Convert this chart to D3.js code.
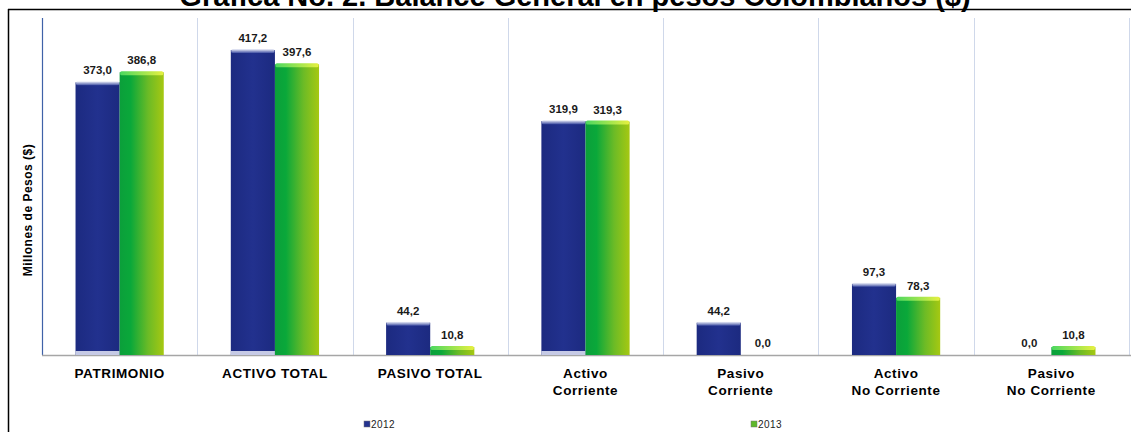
<!DOCTYPE html>
<html>
<head>
<meta charset="utf-8">
<script src="https://cdn.jsdelivr.net/npm/d3@7"></script>
<style>
  body { margin: 0; background: #fff; }
  svg { display: block; font-family: Arial, "Liberation Sans", sans-serif; }
</style>
</head>
<body>
<svg id="chart" width="1131" height="432"></svg>
<script>
const categories = [["PATRIMONIO"], ["ACTIVO TOTAL"], ["PASIVO TOTAL"], ["Activo", "Corriente"],
  ["Pasivo", "Corriente"], ["Activo", "No Corriente"], ["Pasivo", "No Corriente"]];
const years = ["2012", "2013"];
const values2012 = [373.0, 417.2, 44.2, 319.9, 44.2, 97.3, 0.0];
const values2013 = [386.8, 397.6, 10.8, 319.3, 0.0, 78.3, 10.8];

const svg = d3.select("#chart");
const plotLeft = 42, plotRight = 1129, plotTop = 18, plotBottom = 355;

// gradients for the bars
const defs = svg.append("defs");
let g1 = defs.append("linearGradient").attr("id", "blueBar").attr("x1", "0%").attr("x2", "100%");
g1.append("stop").attr("offset", "0%").attr("stop-color", "#1c2a80");
g1.append("stop").attr("offset", "50%").attr("stop-color", "#22318e");
g1.append("stop").attr("offset", "100%").attr("stop-color", "#1c2a80");
let g2 = defs.append("linearGradient").attr("id", "greenBar").attr("x1", "0%").attr("x2", "100%");
g2.append("stop").attr("offset", "0%").attr("stop-color", "#0b9f3a");
g2.append("stop").attr("offset", "25%").attr("stop-color", "#0aa83a");
g2.append("stop").attr("offset", "65%").attr("stop-color", "#6cbb26");
g2.append("stop").attr("offset", "100%").attr("stop-color", "#a6c812");
let gTop = defs.append("linearGradient").attr("id", "topBlue").attr("x1", "0%").attr("y1", "0%").attr("x2", "0%").attr("y2", "100%");
gTop.append("stop").attr("offset", "0%").attr("stop-color", "#f2f4fb");
gTop.append("stop").attr("offset", "100%").attr("stop-color", "#4050a4");
let gTopG = defs.append("linearGradient").attr("id", "topGreen").attr("x1", "0%").attr("x2", "100%");
gTopG.append("stop").attr("offset", "0%").attr("stop-color", "#4cd860");
gTopG.append("stop").attr("offset", "100%").attr("stop-color", "#e6f040");

// frame and title (the title is cropped at the top, as in the original)
svg.append("text").attr("x", 575).attr("y", 6).attr("text-anchor", "middle")
  .attr("font-size", 29).attr("font-weight", "bold").attr("fill", "#000")
  .text("Grafica No. 2. Balance General en pesos Colombianos ($)");
svg.append("line").attr("x1", 8).attr("x2", 1131).attr("y1", 9.5).attr("y2", 9.5).attr("stroke", "#000").attr("stroke-width", 1.5);
svg.append("line").attr("x1", 8.5).attr("x2", 8.5).attr("y1", 9).attr("y2", 432).attr("stroke", "#000").attr("stroke-width", 1.5);

const x = d3.scaleBand().domain(d3.range(categories.length)).range([plotLeft, plotRight]);
const xs = d3.scaleBand().domain(years).range([0, x.bandwidth()]).paddingInner(0).paddingOuter(0.76);
const y = d3.scaleLinear().domain([0, 461]).range([plotBottom, plotTop]);

// category separators
svg.selectAll(".sep").data(d3.range(categories.length + 1)).join("line")
  .attr("x1", d => Math.round(plotLeft + d * x.step()) + 0.5)
  .attr("x2", d => Math.round(plotLeft + d * x.step()) + 0.5)
  .attr("y1", plotTop).attr("y2", plotBottom)
  .attr("stroke", d => d === 0 ? "#3f62a8" : "#cfd8ea").attr("stroke-width", d => d === 0 ? 1.2 : 1);

svg.append("line").attr("x1", plotLeft).attr("x2", 1131).attr("y1", plotBottom + 0.5).attr("y2", plotBottom + 0.5)
  .attr("stroke", "#a6a6a6").attr("stroke-width", 1.5);

const series = [
  { year: "2012", vals: values2012, fill: "url(#blueBar)", topFill: "url(#topBlue)" },
  { year: "2013", vals: values2013, fill: "url(#greenBar)", topFill: "url(#topGreen)" }
];

series.forEach(s => {
  const g = svg.append("g");
  const bars = g.selectAll("g").data(s.vals.map((v, i) => ({ v, i }))).join("g")
    .attr("transform", d => `translate(${x(d.i) + xs(s.year)},0)`);
  bars.filter(d => d.v > 0).append("rect")
    .attr("x", 0).attr("width", xs.bandwidth())
    .attr("y", d => y(d.v)).attr("height", d => plotBottom - y(d.v))
    .attr("fill", s.fill);
  bars.filter(d => d.v > 0).append("rect")
    .attr("x", 0.5).attr("width", xs.bandwidth() - 1)
    .attr("y", d => y(d.v) - 1).attr("height", 4).attr("rx", 1.5)
    .attr("fill", s.topFill);
  if (s.year === "2012") {
    bars.filter(d => d.v > 100).append("rect")
      .attr("x", 0).attr("width", xs.bandwidth())
      .attr("y", plotBottom - 4).attr("height", 4)
      .attr("fill", "#d8dcf0").attr("opacity", 0.9);
  }
  bars.append("text")
    .attr("x", xs.bandwidth() / 2).attr("y", d => y(d.v) - 8)
    .attr("text-anchor", "middle").attr("font-size", 11.5).attr("font-weight", "bold").attr("fill", "#1a1a1a")
    .text(d => d3.format(".1f")(d.v).replace(".", ","));
});

// category labels
const cl = svg.selectAll(".cat").data(categories).join("text")
  .attr("x", (d, i) => x(i) + x.bandwidth() / 2)
  .attr("text-anchor", "middle").attr("font-size", 13.5).attr("font-weight", "bold")
  .attr("letter-spacing", 0.6).attr("fill", "#000");
cl.each(function (d) {
  const t = d3.select(this);
  d.forEach((line, k) => {
    t.append("tspan").attr("x", t.attr("x")).attr("y", 378 + k * 17).text(line);
  });
});

// y axis title
svg.append("text").attr("transform", "translate(32,210) rotate(-90)")
  .attr("text-anchor", "middle").attr("font-size", 12).attr("font-weight", "bold")
  .attr("letter-spacing", 0.5)
  .text("Millones de Pesos ($)");

// legend
const legX = [364, 751];
const legFill = ["#24338f", "#5fb82a"];
years.forEach((yr, i) => {
  svg.append("rect").attr("x", legX[i]).attr("y", 421).attr("width", 6).attr("height", 6)
    .attr("fill", legFill[i]).attr("stroke", "#777").attr("stroke-width", 0.5);
  svg.append("text").attr("x", legX[i] + 7).attr("y", 428).attr("font-size", 10)
    .attr("letter-spacing", 0.4).attr("fill", "#222").text(yr);
});
</script>
</body>
</html>
